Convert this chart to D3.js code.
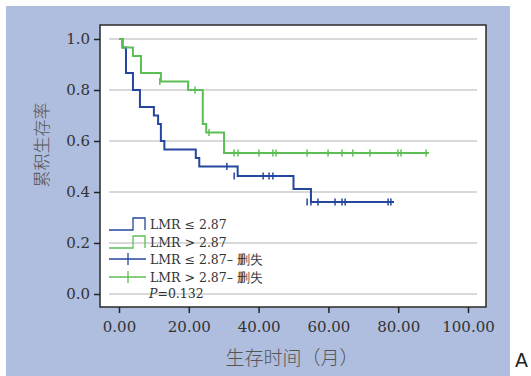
<!DOCTYPE html>
<html>
<head>
<meta charset="utf-8">
<script src="https://cdn.jsdelivr.net/npm/d3@7"></script>
<style>
  body { margin: 0; background: #fff; }
  svg { display: block; }
</style>
</head>
<body>
<svg width="531" height="376"></svg>
<script>
// tick values
const timeTicks = [0, 20, 40, 60, 80, 100];
const survTicks = [0, 0.2, 0.4, 0.6, 0.8, 1.0];

// LMR <= 2.87 (blue): event times and survival after each drop
const lowTimes = [1, 2, 4, 6, 10, 11.2, 12, 13, 22, 23, 34, 50, 55];
const lowSurv = [0.967, 0.867, 0.8, 0.733, 0.7, 0.667, 0.6, 0.567, 0.533, 0.5, 0.463, 0.412, 0.361];
const lowEnd = 78.8;
const lowCensT = [30.9, 33, 41.3, 43, 44.1, 53.9, 55, 57, 61.9, 63.9, 64.8, 77.1, 77.9];
const lowCensS = [0.5, 0.463, 0.463, 0.463, 0.463, 0.361, 0.361, 0.361, 0.361, 0.361, 0.361, 0.361, 0.361];

// LMR > 2.87 (green)
const highTimes = [1, 4, 6.3, 12, 19.8, 24, 25, 30.1];
const highSurv = [0.967, 0.933, 0.867, 0.833, 0.8, 0.667, 0.633, 0.553];
const highEnd = 88.8;
const highCensT = [11.7, 21.8, 25.8, 33, 34.1, 40.1, 44.1, 45, 53.9, 59.9, 63.9, 67, 71.9, 79.9, 80.8, 88];
const highCensS = [0.833, 0.8, 0.633, 0.553, 0.553, 0.553, 0.553, 0.553, 0.553, 0.553, 0.553, 0.553, 0.553, 0.553, 0.553, 0.553];

const legendLabels = ["LMR \u2264 2.87", "LMR > 2.87", "LMR \u2264 2.87\u2013 删失", "LMR > 2.87\u2013 删失"];
const pText = "=0.132";

const blue = "#24479d";
const green = "#5cbf55";
const serif = "'DejaVu Serif', serif";

const svg = d3.select("svg");

// page background
svg.append("rect").attr("x", 6).attr("y", 6).attr("width", 504).attr("height", 370).attr("fill", "#afbedf");

// plot box
svg.append("rect").attr("x", 100).attr("y", 25).attr("width", 386).attr("height", 282)
  .attr("fill", "#fff").attr("stroke", "#2a2a2a").attr("stroke-width", 1.5);

const x = d3.scaleLinear().domain([0, 100]).range([119, 468]);
const y = d3.scaleLinear().domain([0, 1]).range([294, 39]);

// gridlines
svg.append("g").selectAll("line").data(survTicks).enter().append("line")
  .attr("x1", 109).attr("x2", 477)
  .attr("y1", d => y(d)).attr("y2", d => y(d))
  .attr("stroke", "#d9d9d9").attr("stroke-width", 2);

// axes
const yAxis = svg.append("g").attr("transform", "translate(100,0)")
  .call(d3.axisLeft(y).tickValues(survTicks).tickFormat(d3.format(".1f")).tickSize(6).tickPadding(4));
const xAxis = svg.append("g").attr("transform", "translate(0,307)")
  .call(d3.axisBottom(x).tickValues(timeTicks).tickFormat(d3.format(".2f")).tickSize(6).tickPadding(8));
[yAxis, xAxis].forEach(a => {
  a.select(".domain").remove();
  a.selectAll(".tick line").attr("stroke", "#222").attr("stroke-width", 1.5);
  a.selectAll(".tick text").attr("fill", "#333").style("font-family", serif).style("font-size", "15px");
});

// step curves
const line = d3.line().x(d => x(d[0])).y(d => y(d[1])).curve(d3.curveStepAfter);
function curvePoints(times, surv, end) {
  const pts = [[0, 1]];
  times.forEach((t, i) => pts.push([t, surv[i]]));
  pts.push([end, surv[surv.length - 1]]);
  return pts;
}
function drawCurve(times, surv, end, censT, censS, color) {
  svg.append("path").datum(curvePoints(times, surv, end))
    .attr("d", line).attr("fill", "none").attr("stroke", color).attr("stroke-width", 2);
  svg.append("g").selectAll("line").data(censT).enter().append("line")
    .attr("x1", d => x(d)).attr("x2", d => x(d))
    .attr("y1", (d, i) => y(censS[i]) - 3.5).attr("y2", (d, i) => y(censS[i]) + 3.5)
    .attr("stroke", color).attr("stroke-width", 1.5);
}
drawCurve(lowTimes, lowSurv, lowEnd, lowCensT, lowCensS, blue);
drawCurve(highTimes, highSurv, highEnd, highCensT, highCensS, green);

// legend
const lg = svg.append("g");
const rows = [229, 247, 264, 282];
[blue, green].forEach((c, i) => {
  const b = rows[i] + 1;
  lg.append("path").attr("d", `M109,${b}H133V${b - 12}H145V${b}`)
    .attr("fill", "none").attr("stroke", c).attr("stroke-width", 1.3);
});
[blue, green].forEach((c, i) => {
  const b = rows[i + 2] - 5;
  lg.append("line").attr("x1", 109).attr("x2", 146).attr("y1", b).attr("y2", b).attr("stroke", c).attr("stroke-width", 1.3);
  lg.append("line").attr("x1", 128).attr("x2", 128).attr("y1", b - 6).attr("y2", b + 6).attr("stroke", c).attr("stroke-width", 1.3);
});
legendLabels.forEach((t, i) => {
  lg.append("text").attr("x", 150).attr("y", rows[i]).text(t)
    .attr("fill", "#333").style("font-family", serif).style("font-size", "12.5px");
});
const pt = lg.append("text").attr("x", 149).attr("y", 298).attr("fill", "#333")
  .style("font-family", serif).style("font-size", "12.5px");
pt.append("tspan").attr("font-style", "italic").text("P");
pt.append("tspan").text(pText);

// axis titles
svg.append("text").attr("transform", "translate(48,145) rotate(-90)")
  .attr("text-anchor", "middle").attr("fill", "#555")
  .style("font-family", "'Noto Sans CJK SC', sans-serif").style("font-size", "17px").style("font-weight", 300)
  .text("累积生存率");
svg.append("text").attr("x", 292).attr("y", 365)
  .attr("text-anchor", "middle").attr("fill", "#555")
  .style("font-family", "'Noto Sans CJK SC', sans-serif").style("font-size", "19px").style("font-weight", 300)
  .text("生存时间（月）");

// panel letter
svg.append("text").attr("x", 515).attr("y", 367).attr("fill", "#222")
  .style("font-family", "'DejaVu Sans', sans-serif").style("font-size", "19px").text("A");
</script>
</body>
</html>
